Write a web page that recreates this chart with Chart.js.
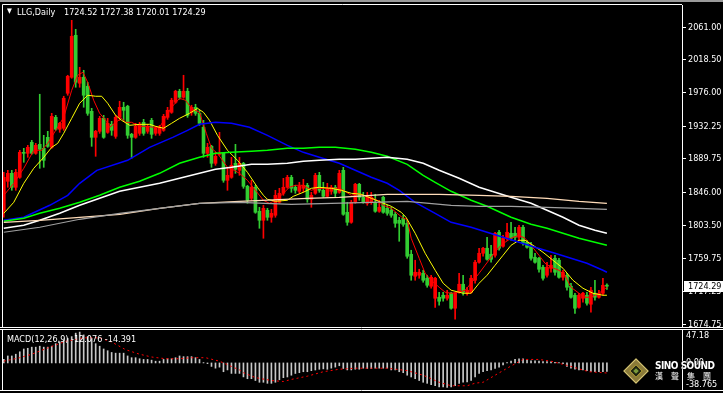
<!DOCTYPE html>
<html>
<head>
<meta charset="utf-8">
<script src="https://cdn.jsdelivr.net/npm/chart.js@4.4.1/dist/chart.umd.min.js"></script>
<style>
  body { margin: 0; background: #000; width: 723px; height: 393px; overflow: hidden; position: relative;
         font-family: "DejaVu Sans Condensed", "DejaVu Sans", sans-serif; color: #fff; }
  canvas { position: absolute; left: 0; top: 0; }
  .lbl { position: absolute; font-size: 9px; line-height: 12px; white-space: pre; }
  #winbar { position: absolute; left: 0; top: 0; width: 723px; height: 2px; background: #9a9a9a; }
  #logo { position: absolute; left: 627px; top: 362px; width: 18px; height: 18px; transform: rotate(45deg);
          background: #8a7a3a; border: 1px solid #d8c878; box-sizing: border-box; }
  #logo div { position: absolute; left: 3px; top: 3px; width: 10px; height: 10px; background: #1e2410; border: 1px solid #c8b040; box-sizing: border-box; }
  #logo div div { left: 2px; top: 2px; width: 4px; height: 4px; background: #7a9a3a; border: none; }
  #brand { position: absolute; left: 655px; top: 360px; font-size: 10px; font-weight: bold; color: #fff; letter-spacing: -0.5px;
           text-shadow: 0 0 1px #000, 0 0 1px #000; }
  #brandcn { position: absolute; left: 655px; top: 371px; font-size: 8px; letter-spacing: 8px; color: #fff;
             font-family: "Noto Sans CJK TC", sans-serif; line-height: 10px; text-shadow: 0 0 1px #000; }
</style>
</head>
<body>
<div id="winbar"></div>
<canvas id="price" width="723" height="393"></canvas>
<canvas id="macd" width="723" height="393"></canvas>
<div class="lbl" style="left:7px;top:5px;font-size:7px;">▼</div>
<div class="lbl" style="left:17px;top:6px;">LLG,Daily</div>
<div class="lbl" id="ohlc" style="left:64px;top:6px;"></div>
<div class="lbl" id="macdLabel" style="left:7px;top:333px;"></div>
<div id="logo"><div><div></div></div></div>
<div id="brand">SINO SOUND</div>
<div id="brandcn">漢聲集團</div>
<script>
// daily candles, oldest first
const opens = [1823.0,1860.7,1871.1,1852.9,1865.9,1898.4,1897.1,1911.4,1897.1,1908.8,1903.6,1917.9,1904.9,1943.9,1928.4,1929.7,1975.2,1996.0,2050.6,1988.2,
  1996.0,1984.3,1951.7,1917.9,1925.7,1942.6,1924.4,1934.8,1919.2,1943.9,1956.9,1958.3,1921.8,1917.9,1923.1,1937.4,1925.7,1940.0,1923.1,1923.1,
  1927.0,1943.9,1950.4,1963.5,1977.8,1970.0,1977.8,1950.4,1956.9,1949.1,1930.9,1897.1,1906.2,1884.1,1895.8,1897.1,1862.0,1865.9,1884.1,1875.0,
  1884.1,1854.2,1838.6,1852.9,1821.7,1810.0,1823.0,1813.9,1816.5,1833.4,1845.1,1852.9,1865.9,1852.9,1847.7,1851.6,1855.5,1837.3,1845.1,1868.5,
  1849.0,1841.2,1847.7,1852.9,1846.4,1875.0,1820.4,1807.4,1833.4,1856.8,1839.9,1832.1,1833.4,1833.4,1821.7,1839.9,1825.6,1823.0,1817.8,1810.0,
  1812.6,1806.1,1765.8,1737.2,1738.5,1741.1,1734.6,1724.2,1708.6,1709.9,1712.5,1708.6,1715.1,1695.6,1716.4,1726.8,1715.1,1716.4,1732.0,1755.4,
  1767.1,1773.6,1765.8,1764.5,1794.4,1776.2,1786.6,1793.1,1793.1,1787.9,1800.9,1781.4,1777.5,1761.9,1760.6,1748.9,1738.5,1747.6,1760.6,1758.0,
  1735.9,1738.5,1724.2,1712.5,1696.8,1708.6,1712.5,1700.8,1715.1,1709.9,1715.1,1724.52];
const highs = [1872.4,1875.0,1875.0,1876.3,1901.0,1903.6,1907.5,1914.0,1910.1,1973.9,1920.5,1925.7,1949.1,1946.5,1937.4,1971.3,1998.6,2070.1,2058.4,2009.0,
  2005.1,1989.5,1955.6,1927.0,1945.2,1946.5,1942.6,1938.7,1946.5,1964.8,1963.5,1959.6,1923.1,1936.1,1937.4,1941.3,1934.8,1942.6,1932.2,1933.5,
  1947.8,1956.9,1968.7,1979.1,1980.4,1998.6,1981.7,1959.6,1960.9,1953.0,1940.0,1910.1,1907.5,1898.4,1924.4,1898.4,1878.9,1891.9,1908.8,1891.9,
  1885.4,1855.5,1862.0,1855.5,1826.9,1829.5,1825.6,1824.3,1849.0,1851.6,1864.6,1868.5,1868.5,1855.5,1859.4,1863.3,1858.1,1846.4,1871.1,1872.4,
  1859.4,1858.1,1855.5,1855.5,1875.0,1878.9,1833.4,1836.0,1858.1,1858.1,1846.4,1846.4,1846.4,1843.8,1836.0,1841.2,1829.5,1826.9,1820.4,1813.9,
  1816.5,1810.0,1771.0,1758.0,1746.3,1745.0,1738.5,1738.5,1735.9,1716.4,1716.4,1719.0,1716.4,1716.4,1741.1,1738.5,1722.9,1738.5,1758.0,1773.6,
  1774.9,1787.9,1777.5,1794.4,1797.0,1790.5,1806.1,1807.4,1800.9,1803.5,1803.5,1784.0,1781.4,1767.1,1761.9,1751.5,1755.4,1764.5,1764.5,1760.6,
  1745.0,1741.1,1728.1,1715.1,1715.1,1716.4,1716.4,1722.9,1732.0,1719.0,1734.6,1727.38];
const lows = [1813.9,1852.9,1849.0,1849.0,1864.6,1885.4,1891.9,1895.8,1895.8,1877.6,1878.9,1904.9,1903.6,1927.0,1924.4,1927.0,1972.6,1994.7,1983.0,1983.0,
  1957.0,1946.5,1906.2,1893.2,1923.1,1916.6,1923.1,1920.5,1916.6,1940.0,1940.0,1916.6,1890.6,1916.6,1920.5,1920.5,1923.1,1916.6,1920.5,1920.5,
  1925.7,1941.3,1949.1,1962.2,1967.4,1968.7,1943.9,1946.5,1946.5,1933.5,1891.9,1891.9,1878.9,1881.5,1894.5,1859.4,1849.0,1864.6,1871.1,1868.5,
  1851.6,1832.1,1836.0,1819.1,1799.6,1786.6,1810.0,1807.4,1813.9,1832.1,1842.5,1851.6,1846.4,1845.1,1845.1,1846.4,1833.4,1826.9,1843.8,1846.4,
  1839.9,1839.9,1843.8,1839.9,1845.1,1816.5,1803.5,1806.1,1832.1,1836.0,1832.1,1829.5,1830.8,1820.4,1820.4,1819.1,1816.5,1813.9,1800.9,1782.7,
  1802.2,1760.6,1732.0,1732.0,1734.6,1729.4,1722.9,1721.6,1696.8,1699.5,1704.7,1706.0,1694.3,1681.3,1715.1,1712.5,1712.5,1715.1,1728.1,1754.1,
  1763.2,1758.0,1755.4,1761.9,1771.0,1774.9,1784.0,1784.0,1784.0,1784.0,1777.5,1773.6,1758.0,1754.1,1742.4,1732.0,1735.9,1742.4,1738.5,1734.6,
  1732.0,1719.0,1708.6,1689.0,1695.6,1703.4,1699.5,1690.4,1706.0,1708.6,1712.5,1720.01];
const closes = [1865.9,1871.1,1852.9,1872.4,1898.4,1897.1,1904.9,1897.1,1907.5,1902.3,1888.0,1906.2,1945.2,1928.4,1936.1,1968.7,1997.3,2049.3,1989.5,1996.0,
  1972.6,1949.1,1917.9,1925.7,1942.6,1917.9,1936.1,1927.0,1943.9,1956.9,1953.0,1920.5,1917.9,1932.2,1934.8,1923.1,1932.2,1921.8,1929.7,1931.0,
  1945.2,1953.0,1966.1,1977.8,1970.0,1977.8,1946.5,1956.9,1949.1,1936.1,1897.1,1904.9,1884.1,1893.2,1897.1,1862.0,1868.5,1881.5,1876.3,1884.1,
  1854.2,1836.0,1852.9,1820.4,1810.0,1825.6,1813.9,1819.1,1842.5,1845.1,1852.9,1865.9,1851.6,1849.0,1854.2,1855.5,1837.3,1842.5,1868.5,1849.0,
  1841.2,1851.6,1852.9,1845.1,1871.1,1817.8,1807.4,1833.4,1856.8,1839.9,1833.4,1839.9,1839.9,1821.7,1826.9,1820.4,1819.1,1816.5,1806.1,1806.1,
  1804.8,1763.2,1738.5,1742.4,1742.4,1732.0,1725.5,1735.9,1734.6,1704.7,1708.6,1712.5,1695.6,1715.1,1726.8,1716.4,1719.0,1734.6,1755.4,1767.1,
  1773.6,1759.3,1759.3,1793.1,1773.6,1786.6,1794.4,1786.6,1787.9,1800.9,1780.1,1774.9,1760.6,1755.4,1746.3,1734.6,1748.9,1751.5,1742.4,1735.9,
  1742.4,1722.9,1709.9,1695.6,1712.5,1715.1,1702.1,1719.0,1709.9,1715.1,1725.5,1724.29];

const priceTicks = [2061.00, 2018.50, 1976.00, 1932.25, 1889.75, 1846.00, 1803.50, 1759.75, 1717.25, 1674.75];

// moving averages as [day, price]
const maRed = [[0,1842.5],[2.5,1858.1],[5,1877.6],[7.5,1901.0],[9.5,1901.0],[11,1910.1],[13,1927.0],[15,1943.9],[17,1979.1],[18.5,1998.6],
  [19.8,2002.5],[21,1989.5],[22.5,1966.1],[24,1949.1],[25.5,1940.0],[26.5,1930.9],[28,1937.4],[29.5,1942.6],[30.5,1937.4],[32,1937.4],
  [34,1932.2],[36,1932.2],[37.5,1930.9],[39,1930.9],[40.5,1943.9],[42,1956.9],[44,1968.6],[45.5,1966.1],[47,1955.6],[49,1950.4],
  [50.7,1923.1],[52,1903.6],[53.5,1897.1],[56,1878.9],[57.7,1875.0],[59,1871.1],[61,1862.0],[63,1849.0],[65,1836.0],[66.5,1832.1],
  [68,1836.0],[70,1845.1],[71.5,1852.9],[73,1855.5],[75,1855.5],[77,1849.0],[78.5,1851.6],[83.5,1851.6],[85,1849.0],[87,1842.5],
  [88.5,1845.1],[90,1842.5],[92,1839.9],[93.5,1836.0],[95,1829.5],[97,1825.6],[98.5,1819.1],[100,1812.6],[101,1811.3],[102,1786.6],
  [104,1760.6],[105.5,1741.1],[107,1732.0],[109,1722.9],[110.5,1716.4],[112,1715.1],[114,1716.4],[115.5,1719.0],[117,1728.1],[119,1741.1],
  [120.5,1751.5],[122,1761.9],[124,1774.9],[125.5,1781.4],[127,1786.6],[129,1790.5],[130.5,1786.6],[132,1777.5],[134,1764.5],[135.5,1754.1],
  [137,1748.9],[139,1745.0],[140.5,1738.5],[142,1722.9],[144,1715.1],[145.5,1709.9],[147,1709.9],[149,1715.1],[151,1722.9]];
const maYellow = [[0,1819.1],[2.5,1833.4],[5,1858.1],[7.5,1877.6],[10,1891.9],[12,1904.9],[13.5,1910.1],[15,1923.1],[17,1942.6],[19,1962.2],
  [21,1972.6],[23,1971.3],[24.5,1971.3],[26,1962.2],[28,1946.5],[29.5,1940.0],[31.5,1933.5],[34,1934.8],[36.5,1934.8],[38,1932.2],
  [40,1929.7],[42,1936.1],[44,1942.6],[46.5,1949.1],[48.5,1955.6],[50,1950.4],[51.5,1940.0],[53.5,1920.5],[56,1901.0],[58.5,1888.0],
  [61,1872.4],[63.5,1852.9],[65,1842.5],[66,1837.3],[68,1834.7],[71,1836.0],[72.5,1841.2],[75,1846.4],[77,1851.6],[79,1852.9],
  [82,1851.6],[84.5,1849.0],[87,1845.1],[89.5,1843.8],[92,1838.6],[94.5,1833.4],[97,1828.2],[99.5,1820.4],[100.7,1813.9],[103,1793.1],
  [105.5,1767.1],[108,1745.0],[110,1728.1],[112,1719.0],[115,1715.1],[117,1715.1],[119,1728.1],[121,1738.5],[123,1751.5],[125,1764.5],
  [127,1777.5],[129,1784.0],[130.5,1784.0],[132.5,1777.5],[135,1768.4],[137.5,1758.0],[140,1747.6],[142.5,1732.0],[145,1721.6],[147.5,1715.1],
  [150,1712.5],[151,1712.5]];
const maBlue = [[0,1810.0],[5,1813.9],[11.5,1829.5],[16,1842.5],[19,1858.1],[23.3,1875.0],[31,1888.0],[36.5,1904.9],[42.3,1917.9],[46,1927.0],
  [49,1934.8],[53,1937.4],[57,1936.1],[61.5,1930.9],[66,1920.5],[71,1907.5],[75,1898.4],[79,1891.9],[84,1884.1],[88,1875.0],
  [92,1865.9],[96,1858.1],[99,1849.0],[103,1833.4],[108,1819.1],[112,1807.4],[117,1800.9],[121,1794.4],[125,1787.9],[129,1781.4],
  [133,1774.9],[138,1767.1],[142,1760.6],[146,1754.1],[150,1745.0],[151,1742.4]];
const maGreen = [[0,1808.7],[5,1812.6],[9,1819.1],[14,1825.6],[19,1833.4],[24,1842.5],[29,1852.9],[34,1860.7],[39,1871.1],[44,1884.1],
  [49,1891.9],[53,1897.1],[57,1898.4],[62,1899.7],[66,1901.0],[71,1903.6],[75,1903.6],[79,1904.9],[83,1904.9],[88,1902.3],
  [92,1898.4],[96,1893.2],[101,1882.8],[105,1868.5],[108,1859.4],[112,1847.7],[117,1836.0],[121,1828.2],[127,1814.0],[132,1804.8],
  [136,1799.6],[140,1793.1],[144,1786.6],[148,1781.4],[151,1777.5]];
const maWhite = [[0,1799.6],[5,1803.5],[9,1810.0],[14,1819.1],[19,1829.5],[24,1838.6],[29,1847.7],[34,1852.9],[39,1858.1],[44,1864.6],
  [49,1871.1],[53,1876.3],[57,1878.9],[62,1882.8],[66,1882.8],[71,1884.1],[75,1886.7],[79,1888.0],[84,1889.3],[88,1889.3],
  [92,1890.6],[96,1891.9],[101,1889.3],[105,1884.1],[109,1875.0],[114,1864.6],[119,1852.9],[123,1846.4],[127,1839.9],[132,1832.1],
  [136,1823.0],[140,1813.9],[144,1803.5],[148,1797.0],[151,1793.1]];
const maBeige = [[0,1807.4],[9,1810.0],[19,1813.9],[29,1817.8],[39,1825.6],[49,1832.1],[59,1834.7],[76,1838.6],[84,1839.9],[96,1843.8],
  [109,1843.8],[119,1842.5],[127,1841.2],[136,1838.6],[144,1834.7],[151,1832.1]];
const maGray = [[0,1794.4],[9,1800.9],[19,1811.3],[29,1819.1],[39,1825.6],[49,1832.1],[59,1833.4],[72,1830.8],[92,1833.4],[101,1834.7],
  [112,1829.5],[119,1828.2],[127,1828.2],[136,1826.9],[144,1825.6],[151,1824.3]];

// MACD(12,26,9): main line as histogram, signal as [day, value]
const macdMain = [5,10,10,12.5,16,20,21,22.6,22.6,24,22.6,22.6,24,27.6,30.2,32.6,35.1,37.7,42.7,44.2,
  40.1,37.7,35.1,27.6,24,20,17.5,15,14,14,14,10,7.5,7.5,6,5,5,4,2.5,2.5,
  5,6,6,7.5,10,9,9,9,7.5,5,0.5,-1,-5,-7.5,-6,-12.6,-10,-15,-15,-15,
  -20,-22.6,-22.6,-25.2,-27.7,-27.7,-29.2,-29.2,-27.7,-24.1,-21.1,-20.1,-17.6,-15.1,-14,-12.6,-12.6,-11.1,-10.1,-9.1,
  -8.5,-9.1,-7.5,-6,-4,-8,-10,-10,-9,-9,-7.5,-8,-8,-7.5,-7.5,-7.5,-7.5,-10,-10,-12.6,
  -14,-17.6,-20.1,-22.6,-25.2,-27.7,-29.2,-31.2,-32.7,-34.2,-34.2,-35.2,-34.2,-32.7,-29.2,-27.7,-27.2,-25.2,-20.1,-15.1,
  -12.6,-11,-10,-8,-6,-3,0.5,2.5,5,6,6,4,3,3,2.5,2,2,1.5,1,0.5,
  -1,-5,-7.5,-9,-10,-10,-11,-12,-12.6,-12.6,-12.6,-12.076];
const macdSignal = [[0,2.5],[4,7.5],[7,12.5],[11.5,22.6],[15.5,31],[20,36],[24,36],[27,30],[30.5,19],[34,12.5],
  [37,8.5],[40.5,6],[44,6],[47,7.5],[50.5,7.5],[54,2.5],[57,-5],[59,-10],[60,-14],[63,-21],
  [67,-25.2],[70,-26.6],[72,-23.6],[76,-19],[80,-12.6],[84,-9],[88,-7.5],[92,-7.5],[96,-7.5],[101,-11],
  [105,-17.6],[109,-27.7],[112,-32.7],[116,-32.7],[118,-29],[120,-27.7],[123,-17.6],[126.5,-6],[130,5],[134,5],
  [137,2.5],[142,-5],[146.5,-12.6],[151,-14.391]];
const macdTicks = [47.18, 0, -38.765];

const FONT = '"DejaVu Sans Condensed", "DejaVu Sans", sans-serif';
const last = closes.length - 1;
const days = closes.map((_, i) => i);
const candleColor = ctx => closes[ctx.dataIndex] >= opens[ctx.dataIndex] ? '#ff0000' : '#32cd32';
const xScale = { type: 'linear', display: false, offset: false, min: -0.2, max: 169.8 };

document.getElementById('ohlc').textContent =
  [opens[last], highs[last], lows[last], closes[last]].map(v => v.toFixed(2)).join(' ');
document.getElementById('macdLabel').textContent =
  'MACD(12,26,9) ' + macdMain[last].toFixed(3) + ' ' + macdSignal[macdSignal.length - 1][1].toFixed(3);

function maLine(points, color, width) {
  return {
    type: 'line', data: points.map(p => ({ x: p[0], y: p[1] })),
    borderColor: color, borderWidth: width, pointRadius: 0, tension: 0, order: 1
  };
}

function rightAxis(min, max, ticks, label, tickLength, padding) {
  return {
    position: 'right', min: min, max: max,
    afterBuildTicks: s => { s.ticks = ticks.map(v => ({ value: v })); },
    afterFit: s => { s.width = 41; s.paddingTop = 0; s.paddingBottom = 0; },
    ticks: { color: '#fff', font: { family: FONT, size: 9, lineHeight: 1.2 }, padding: padding, autoSkip: false, callback: label },
    grid: { display: tickLength > 0, drawOnChartArea: false, color: '#fff', tickLength: tickLength },
    border: { display: true, color: '#fff', width: 1 }
  };
}

// white panel frames like the terminal window
function framePlugin(sepTop) {
  return {
    id: 'frame',
    afterDraw(chart) {
      const { ctx, chartArea: a } = chart;
      ctx.save();
      ctx.strokeStyle = '#fff';
      ctx.lineWidth = 1;
      ctx.beginPath();
      ctx.moveTo(2.5, a.top - 0.5); ctx.lineTo(2.5, a.bottom + 0.5);
      if (sepTop) { ctx.moveTo(0, a.top - 0.5); ctx.lineTo(723, a.top - 0.5); }
      else { ctx.moveTo(2.5, a.top - 0.5); ctx.lineTo(a.right, a.top - 0.5); }
      ctx.moveTo(0, a.bottom + 0.5); ctx.lineTo(723, a.bottom + 0.5);
      ctx.stroke();
      ctx.restore();
    }
  };
}

const lastPriceBox = {
  id: 'lastPriceBox',
  afterDraw(chart) {
    const { ctx, chartArea, scales } = chart;
    const y = Math.round(scales.y.getPixelForValue(closes[last]));
    ctx.save();
    ctx.fillStyle = '#fff';
    ctx.fillRect(chartArea.right + 2, y - 5, 41, 11);
    ctx.fillStyle = '#000';
    ctx.font = '9px ' + FONT;
    ctx.textBaseline = 'middle';
    ctx.fillText(closes[last].toFixed(2), chartArea.right + 6, y + 0.5);
    ctx.restore();
  }
};

new Chart(document.getElementById('price'), {
  type: 'bar',
  data: {
    datasets: [
      maLine(maGray, '#a0a0a0', 1.2),
      maLine(maBeige, '#ffdcb9', 1.2),
      maLine(maWhite, '#ffffff', 1.5),
      maLine(maGreen, '#00ff00', 1.5),
      maLine(maBlue, '#0000ff', 1.5),
      maLine(maYellow, '#ffff00', 1),
      maLine(maRed, '#ff0000', 1),
      {
        data: days.map(i => ({ x: i, y: [lows[i], highs[i]] })),
        backgroundColor: candleColor, barThickness: 1, grouped: false, order: 3
      },
      {
        data: days.map(i => ({ x: i, y: [opens[i], closes[i]] })),
        backgroundColor: candleColor, barThickness: 3, minBarLength: 1, grouped: false, order: 2
      }
    ]
  },
  options: {
    responsive: false, animation: false,
    layout: { padding: { left: 3, top: 5, right: 0, bottom: 393 - 327 } },
    plugins: { legend: { display: false }, tooltip: { enabled: false } },
    scales: {
      x: xScale,
      y: rightAxis(1671.2, 2090.0, priceTicks, v => v.toFixed(2), 4, 2)
    }
  },
  plugins: [framePlugin(false), lastPriceBox]
});

new Chart(document.getElementById('macd'), {
  type: 'bar',
  data: {
    datasets: [
      {
        type: 'line', data: macdSignal.map(p => ({ x: p[0], y: p[1] })),
        borderColor: '#ff0000', borderWidth: 1, borderDash: [2, 3], pointRadius: 0, tension: 0, order: 1
      },
      {
        data: days.map(i => ({ x: i, y: macdMain[i] })),
        backgroundColor: '#c8c8c8', barThickness: 1, grouped: false, order: 2
      }
    ]
  },
  options: {
    responsive: false, animation: false,
    layout: { padding: { left: 3, top: 330, right: 0, bottom: 3 } },
    plugins: { legend: { display: false }, tooltip: { enabled: false } },
    scales: {
      x: xScale,
      // top and bottom labels sit inside the panel, as the terminal draws them
      y: rightAxis(-38.765, 47.18, macdTicks, v => {
        if (v > 0) return ['', v.toFixed(2)];
        if (v < 0) return [v.toFixed(3), ''];
        return v.toFixed(2);
      }, 0, 4)
    }
  },
  plugins: [framePlugin(true)]
});
</script>
</body>
</html>
